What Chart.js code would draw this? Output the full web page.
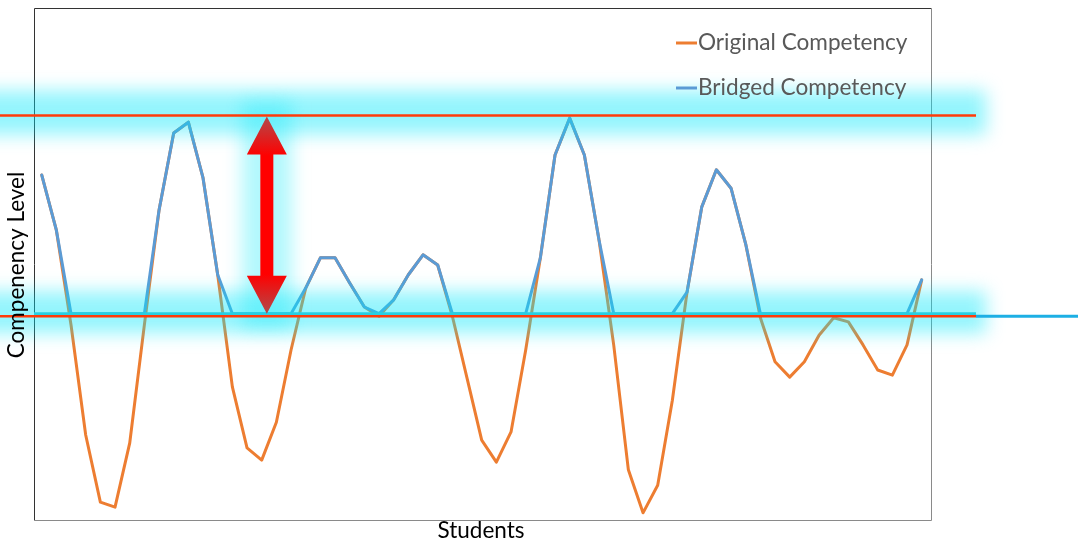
<!DOCTYPE html>
<html>
<head>
<meta charset="utf-8">
<script src="https://cdn.jsdelivr.net/npm/chart.js@4.4.1/dist/chart.umd.min.js"></script>
<style>
  html, body { margin: 0; padding: 0; background: #fff; }
  canvas { display: block; }
</style>
</head>
<body>
<canvas id="chart" width="1078" height="543"></canvas>
<script>
// students along the x axis (one point each)
const students = Array.from({ length: 61 }, (_, i) => i + 1);

// competency before bridging (0 - 100 scale)
const original = [
  67.4, 56.6, 38.1, 16.6, 3.5, 2.5, 15.0, 38.1, 60.5, 75.6,
  77.7, 66.8, 47.9, 26.0, 14.1, 11.7, 19.1, 33.2, 45.3, 51.2,
  51.2, 46.3, 41.6, 39.8, 43.0, 47.9, 51.8, 49.8, 39.8, 27.7,
  15.6, 11.3, 17.2, 33.2, 51.2, 71.3, 78.5, 71.3, 54.7, 34.2,
  9.8, 1.4, 6.8, 23.4, 44.5, 61.1, 68.4, 64.8, 53.9, 39.5,
  30.9, 27.9, 30.9, 36.1, 39.5, 38.7, 34.2, 29.3, 28.3, 34.2,
  46.9
];

// competency after bridging (nobody stays under the floor)
const bridged = [
  67.4, 56.6, 40.3, 40.3, 40.3, 40.3, 40.3, 40.3, 60.5, 75.6,
  77.7, 66.8, 47.9, 40.3, 40.3, 40.3, 40.3, 40.3, 45.3, 51.2,
  51.2, 46.3, 41.6, 40.3, 43.0, 47.9, 51.8, 49.8, 40.3, 40.3,
  40.3, 40.3, 40.3, 40.3, 51.2, 71.3, 78.5, 71.3, 54.7, 40.3,
  40.3, 40.3, 40.3, 40.3, 44.5, 61.1, 68.4, 64.8, 53.9, 40.3,
  40.3, 40.3, 40.3, 40.3, 40.3, 40.3, 40.3, 40.3, 40.3, 40.3,
  46.9
];

const seriesNames = ['Original Competency', 'Bridged Competency'];
const seriesColors = ['#ED7D31', '#5B9BD5'];

const targetLevel = 79;    // upper red line
const lowLevel = 39.8;     // lower red line
const floorLevel = 40.3;   // bridged floor (cyan)
const arrowAt = 16.35;     // student where the gap arrow sits

const FONT = 'Lato, "Open Sans", sans-serif';

const overlay = {
  id: 'overlay',
  beforeDatasetsDraw(chart) {
    const { ctx, chartArea: a } = chart;
    ctx.save();
    ctx.lineWidth = 1;
    ctx.strokeStyle = '#333';
    ctx.beginPath();
    ctx.moveTo(a.left + 0.5, a.bottom + 0.5);
    ctx.lineTo(a.left + 0.5, a.top + 0.5);
    ctx.lineTo(a.right + 0.5, a.top + 0.5);
    ctx.stroke();
    ctx.strokeStyle = '#8a8a8a';
    ctx.beginPath();
    ctx.moveTo(a.right + 0.5, a.top + 0.5);
    ctx.lineTo(a.right + 0.5, a.bottom + 0.5);
    ctx.lineTo(a.left + 0.5, a.bottom + 0.5);
    ctx.stroke();
    ctx.restore();
  },
  afterDatasetsDraw(chart) {
    const { ctx, scales: { x, y }, chartArea: a } = chart;
    const yTop = y.getPixelForValue(targetLevel);
    const yLow = y.getPixelForValue(lowLevel);
    const yFloor = y.getPixelForValue(floorLevel);
    const xa = x.getPixelForValue(arrowAt);
    const lineEnd = a.right + 45;

    // glow bands
    ctx.save();
    ctx.filter = 'blur(9px)';
    ctx.fillStyle = 'rgba(0,232,250,0.42)';
    ctx.fillRect(-40, yTop - 25, lineEnd + 50, 44);
    ctx.fillRect(-40, yLow - 25, lineEnd + 50, 42);
    ctx.fillStyle = 'rgba(0,232,250,0.3)';
    ctx.fillRect(xa - 25, yTop - 14, 50, yLow - yTop + 26);
    ctx.restore();

    // floor line and target lines
    ctx.save();
    ctx.lineCap = 'butt';
    ctx.lineWidth = 3;
    ctx.strokeStyle = '#27CFE3';
    ctx.beginPath();
    ctx.moveTo(a.left, yFloor);
    ctx.lineTo(lineEnd, yFloor);
    ctx.stroke();
    ctx.strokeStyle = '#1CAFE4';
    ctx.beginPath();
    ctx.moveTo(lineEnd, yLow);
    ctx.lineTo(chart.width, yLow);
    ctx.stroke();
    ctx.lineWidth = 2.6;
    ctx.strokeStyle = '#FF3B0A';
    [yTop, yLow].forEach(yy => {
      ctx.beginPath();
      ctx.moveTo(0, yy);
      ctx.lineTo(lineEnd, yy);
      ctx.stroke();
    });

    // double arrow
    const t = yTop + 1, b = yFloor;
    const hh = 38, hw = 20, sw = 6.5;
    const g = ctx.createLinearGradient(0, t, 0, b);
    g.addColorStop(0, '#B24A4A');
    g.addColorStop(0.2, '#FF0000');
    g.addColorStop(0.8, '#FF0000');
    g.addColorStop(1, '#B24A4A');
    ctx.fillStyle = g;
    ctx.beginPath();
    ctx.moveTo(xa, t);
    ctx.lineTo(xa + hw, t + hh);
    ctx.lineTo(xa + sw, t + hh);
    ctx.lineTo(xa + sw, b - hh);
    ctx.lineTo(xa + hw, b - hh);
    ctx.lineTo(xa, b);
    ctx.lineTo(xa - hw, b - hh);
    ctx.lineTo(xa - sw, b - hh);
    ctx.lineTo(xa - sw, t + hh);
    ctx.lineTo(xa - hw, t + hh);
    ctx.closePath();
    ctx.fill();
    ctx.restore();
  },
  afterDraw(chart) {
    const { ctx } = chart;
    ctx.save();
    // legend
    ctx.font = '22.6px ' + FONT;
    ctx.textBaseline = 'middle';
    ctx.textAlign = 'left';
    chart.data.datasets.forEach((ds, i) => {
      const ly = 43 + i * 45;
      ctx.strokeStyle = ds.borderColor;
      ctx.lineWidth = 3;
      ctx.beginPath();
      ctx.moveTo(676, ly);
      ctx.lineTo(697, ly);
      ctx.stroke();
      ctx.fillStyle = '#595959';
      ctx.fillText(ds.label, 698, ly);
    });
    // axis titles
    ctx.fillStyle = '#000';
    ctx.font = '22.5px ' + FONT;
    ctx.textAlign = 'center';
    ctx.fillText('Students', 481, 531);
    ctx.translate(17, 265);
    ctx.rotate(-Math.PI / 2);
    ctx.fillText('Compenency Level', 0, 0);
    ctx.restore();
  }
};

new Chart(document.getElementById('chart'), {
  type: 'line',
  data: {
    datasets: [
      {
        label: seriesNames[0],
        data: students.map((s, i) => ({ x: s, y: original[i] })),
        borderColor: seriesColors[0],
        order: 1
      },
      {
        label: seriesNames[1],
        data: students.map((s, i) => ({ x: s, y: bridged[i] })),
        borderColor: seriesColors[1],
        order: 0
      }
    ]
  },
  options: {
    responsive: false,
    animation: false,
    layout: { padding: { left: 34, top: 8, right: 147, bottom: 23 } },
    elements: {
      line: { borderWidth: 3, tension: 0, borderJoinStyle: 'round', borderCapStyle: 'round' },
      point: { radius: 0 }
    },
    scales: {
      x: { type: 'linear', min: 0.475, max: 61.634, display: false },
      y: { min: 0, max: 100, display: false }
    },
    plugins: {
      legend: { display: false },
      tooltip: { enabled: false }
    }
  },
  plugins: [overlay]
});
</script>
</body>
</html>
